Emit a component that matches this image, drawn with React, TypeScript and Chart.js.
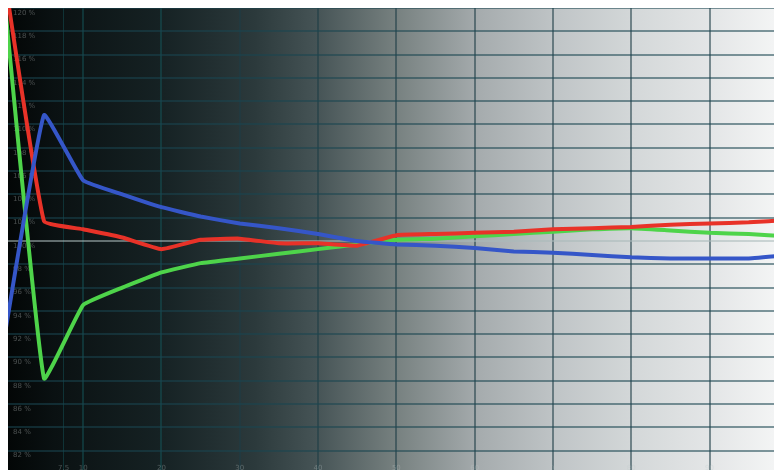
import React, { useEffect, useRef } from "react";
import { Chart, registerables } from "chart.js";

Chart.register(...registerables);

const levels = [0, 5, 10, 15, 20, 25, 30, 35, 40, 45, 50, 55, 60, 65, 70, 75, 80, 85, 90, 95, 100];
const redValues = [122.4, 101.7, 101.0, 100.3, 99.3, 100.1, 100.2, 99.8, 99.8, 99.6, 100.5, 100.6, 100.7, 100.8, 101.0, 101.1, 101.2, 101.4, 101.5, 101.6, 101.8];
const greenValues = [120.3, 88.2, 94.5, 96.0, 97.3, 98.1, 98.5, 98.9, 99.3, 99.7, 100.1, 100.2, 100.4, 100.6, 100.8, 101.0, 101.1, 100.9, 100.7, 100.6, 100.4];
const blueValues = [92.0, 110.8, 105.2, 104.0, 102.9, 102.1, 101.5, 101.1, 100.6, 100.0, 99.7, 99.6, 99.4, 99.1, 99.0, 98.8, 98.6, 98.5, 98.5, 98.5, 98.8];
const yTicks = [82, 84, 86, 88, 90, 92, 94, 96, 98, 100, 102, 104, 106, 108, 110, 112, 114, 116, 118, 120];
const xTicks = [7.5, 10, 20, 30, 40, 50, 60, 70, 80, 90];

const backgroundPlugin = {
  id: "gradientBg",
  beforeDraw(chart: any) {
    const { ctx, width, height } = chart;
    const g = ctx.createLinearGradient(0, 0, width, 0);
    g.addColorStop(0, "#030606");
    g.addColorStop(0.06, "#0a1112");
    g.addColorStop(0.2, "#162224");
    g.addColorStop(0.32, "#2c3a3c");
    g.addColorStop(0.4, "#465456");
    g.addColorStop(0.5, "#76807f");
    g.addColorStop(0.61, "#a6acae");
    g.addColorStop(0.71, "#c0c5c7");
    g.addColorStop(0.81, "#d4d8d9");
    g.addColorStop(0.91, "#e4e6e7");
    g.addColorStop(1, "#f5f6f6");
    ctx.save();
    ctx.fillStyle = g;
    ctx.fillRect(0, 0, width, height);
    ctx.restore();
  },
  afterDraw(chart: any) {
    const { ctx } = chart;
    const xs = chart.scales.x;
    ctx.save();
    ctx.font = "7px 'DejaVu Sans'";
    ctx.fillStyle = "rgba(190,200,200,0.35)";
    ctx.textAlign = "center";
    ctx.textBaseline = "top";
    for (const t of xTicks) {
      ctx.fillText(String(t), xs.getPixelForValue(t), chart.height - 5);
    }
    ctx.restore();
  },
};

export default function App() {
  const ref = useRef<HTMLCanvasElement | null>(null);
  useEffect(() => {
    if (!ref.current) return;
    const chart = new Chart(ref.current, {
      type: "line",
      data: {
        datasets: [
          {
            label: "Blue",
            data: levels.map((x, i) => ({ x, y: blueValues[i] })),
            borderColor: "#3556c8",
            borderWidth: 4,
            pointRadius: 0,
            tension: 0.1,
          },
          {
            label: "Red",
            data: levels.map((x, i) => ({ x, y: redValues[i] })),
            borderColor: "#e83228",
            borderWidth: 4,
            pointRadius: 0,
            tension: 0.1,
          },
          {
            label: "Green",
            data: levels.map((x, i) => ({ x, y: greenValues[i] })),
            borderColor: "#4ed44a",
            borderWidth: 4,
            pointRadius: 0,
            tension: 0.1,
          },
        ],
      },
      options: {
        animation: false,
        responsive: false,
        maintainAspectRatio: false,
        layout: { padding: 0, autoPadding: false },
        plugins: { legend: { display: false }, tooltip: { enabled: false } },
        scales: {
          x: {
            type: "linear",
            min: 0.4,
            max: 99.25,
            afterBuildTicks: (s: any) => {
              s.ticks = xTicks.map((v) => ({ value: v }));
            },
            afterFit: (s: any) => {
              s.height = 0;
              s.paddingLeft = 0;
              s.paddingRight = 0;
            },
            grid: {
              drawTicks: false,
              lineWidth: (c: any) => (c.tick && c.tick.value === 7.5 ? 1 : 2),
              color: (c: any) =>
                c.tick && c.tick.value < 25 ? "rgba(20,90,95,0.45)" : "rgba(30,60,70,0.55)",
            },
            border: { display: false },
            ticks: { display: false },
          },
          y: {
            type: "linear",
            min: 80.34,
            max: 120,
            afterBuildTicks: (s: any) => {
              s.ticks = yTicks.map((v) => ({ value: v }));
            },
            afterFit: (s: any) => {
              s.width = 0;
              s.paddingTop = 0;
              s.paddingBottom = 0;
            },
            grid: {
              drawTicks: false,
              lineWidth: 2,
              color: (c: any) =>
                c.tick && c.tick.value === 100 ? "rgba(170,185,185,0.55)" : "rgba(25,70,80,0.55)",
            },
            border: { display: false },
            ticks: {
              mirror: true,
              padding: 5,
              labelOffset: 5,
              font: { size: 7, family: "'DejaVu Sans'" },
              color: "rgba(200,205,205,0.35)",
              callback: (v: any) => v + " %",
              autoSkip: false,
            },
          },
        },
      },
      plugins: [backgroundPlugin],
    });
    return () => chart.destroy();
  }, []);
  return (
    <div style={{ width: 774, height: 462 }}>
      <canvas ref={ref} width={774} height={462} style={{ display: "block" }} />
    </div>
  );
}
